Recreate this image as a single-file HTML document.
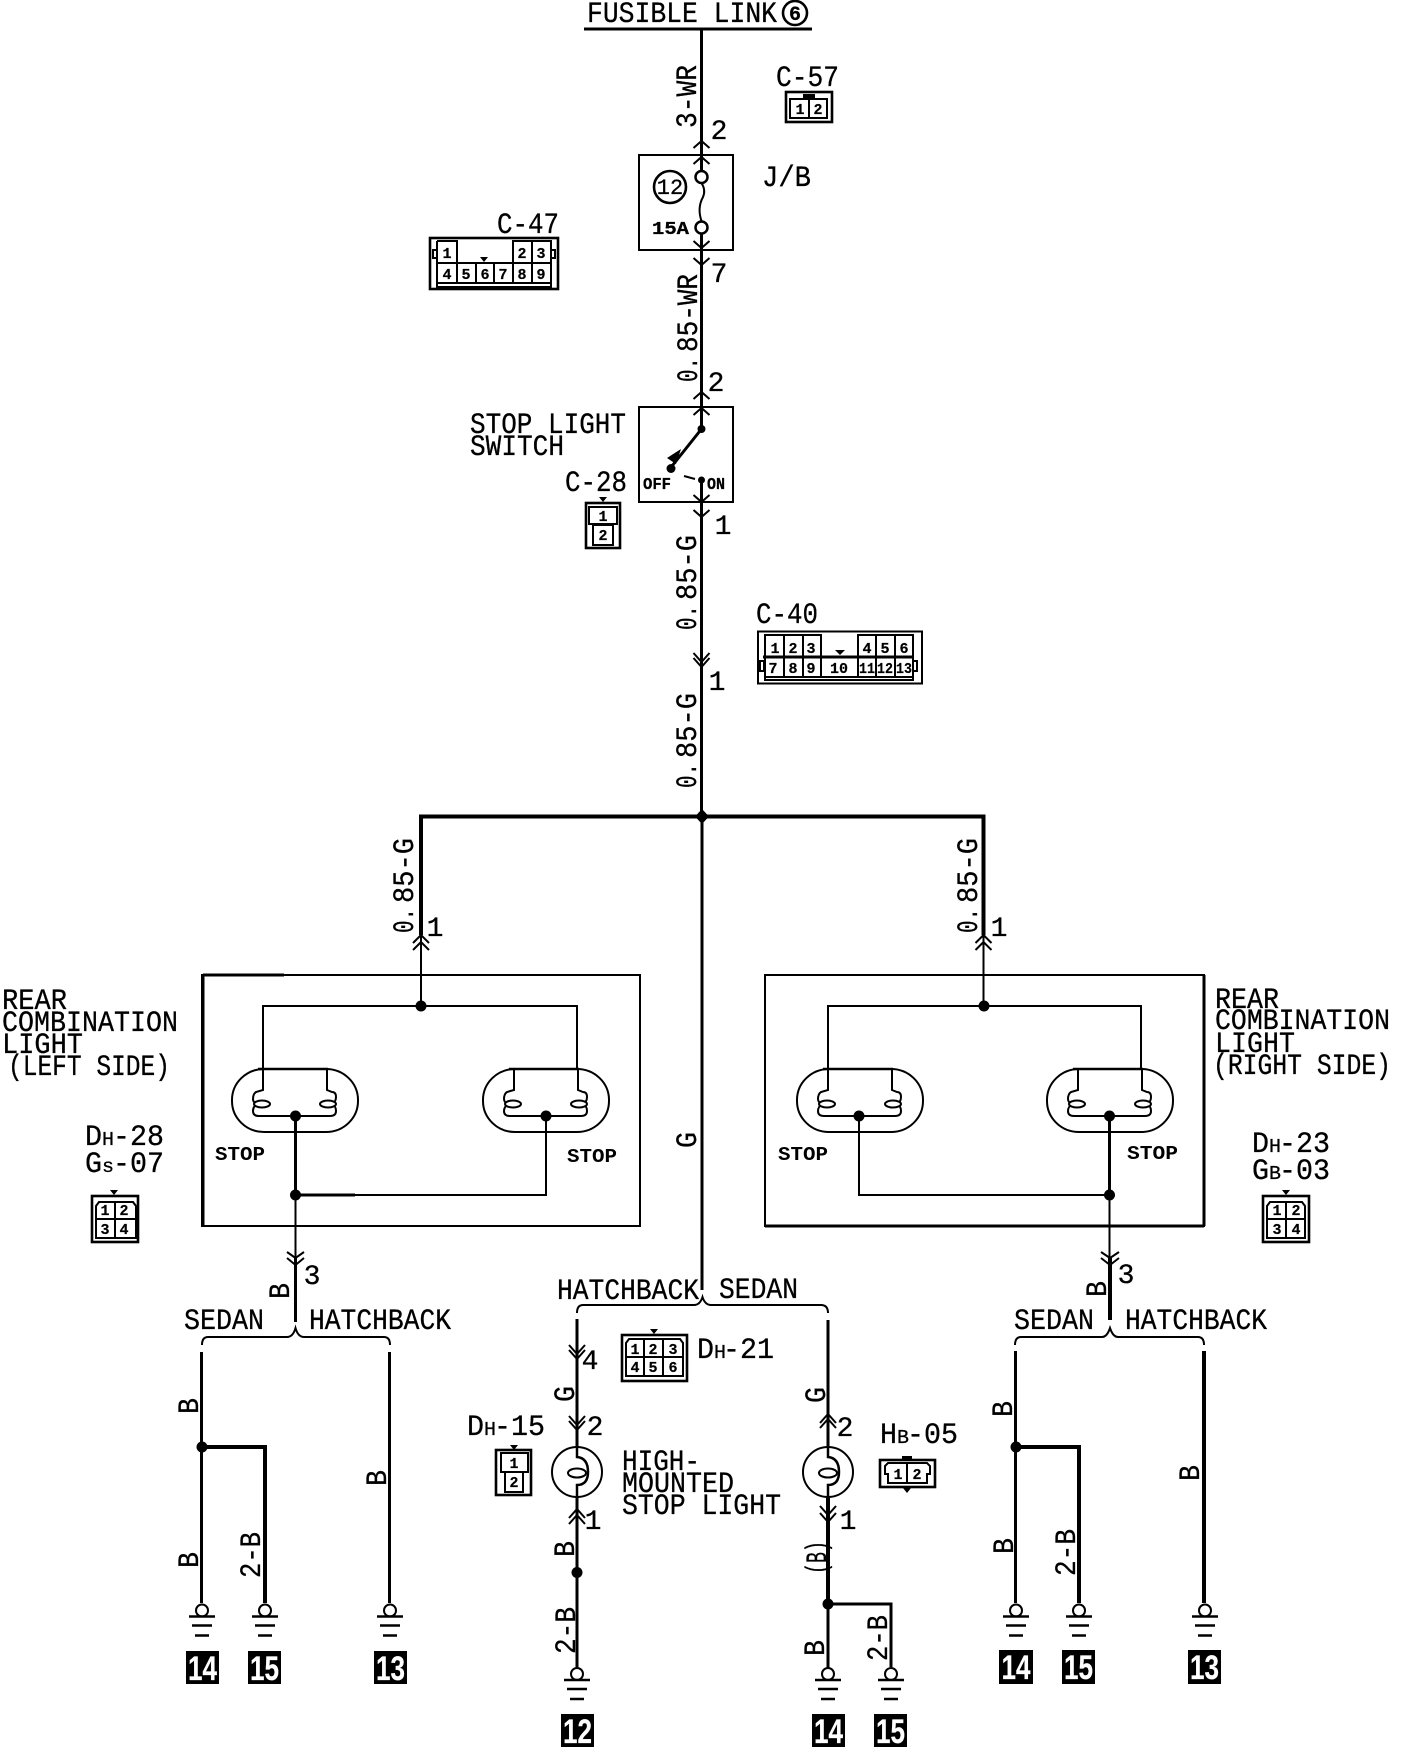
<!DOCTYPE html>
<html>
<head>
<meta charset="utf-8">
<style>
html,body{margin:0;padding:0;background:#fff;}
svg{display:block;}
text{fill:#000;stroke:#000;stroke-width:.3px;font-family:"Liberation Mono",monospace;font-size:30px;}
.r{font-size:30px;}
.n{font-weight:bold;font-size:15px;text-anchor:middle;stroke-width:.2px;}
.p{font-size:28px;text-anchor:middle;}
.s{font-size:19px;font-weight:bold;stroke-width:0;}
.sm{font-size:19px;}
.tag{fill:#fff;stroke:#fff;stroke-width:.2px;font-family:"Liberation Sans",sans-serif;font-size:34px;font-weight:bold;text-anchor:middle;}
.w2{stroke:#000;stroke-width:2;fill:none;}
.w3{stroke:#000;stroke-width:3;fill:none;}
.w4{stroke:#000;stroke-width:4;fill:none;}
.c{stroke:#000;stroke-width:2;fill:none;}
.o{stroke:#000;stroke-width:2.6;fill:none;}
</style>
</head>
<body>
<svg xmlns="http://www.w3.org/2000/svg" width="1408" height="1748" viewBox="0 0 1408 1748">
<defs>
<g id="lamp">
  <rect x="0" y="0" width="126" height="63" rx="32" ry="31" fill="#fff" stroke="#000" stroke-width="2"/>
  <path d="M26,0H96" stroke="#000" stroke-width="2.5"/>
  <path d="M31,0V21L24,23Q21,25 21,30Q21,34 26,35Q21,37 21,42Q21,47 27,47H98Q104,47 104,42Q104,37 100,35Q104,33 104,28Q104,23 100,23L95,21V0" fill="none" stroke="#000" stroke-width="2"/>
  <ellipse cx="30" cy="35" rx="8" ry="3.5" fill="#fff" stroke="#000" stroke-width="2"/>
  <ellipse cx="96" cy="35" rx="8" ry="3.5" fill="#fff" stroke="#000" stroke-width="2"/>
</g>
<g id="bulb">
  <circle cx="0" cy="0" r="25" fill="#fff" stroke="#000" stroke-width="2"/>
  <path d="M0,-25V-15Q11,-14 11,0Q11,13 0,13V25" fill="none" stroke="#000" stroke-width="2.5"/>
  <ellipse cx="0" cy="1" rx="9" ry="4.5" fill="#fff" stroke="#000" stroke-width="2"/>
</g>
<g id="gnd">
  <circle cx="0" cy="0" r="6" fill="#fff" stroke="#000" stroke-width="2"/>
  <path d="M-13,6H13" stroke="#000" stroke-width="2.5"/>
  <path d="M-10,15H10" stroke="#000" stroke-width="2.5"/>
  <path d="M-7,25H7" stroke="#000" stroke-width="2.5"/>
</g>
</defs>

<!-- top -->
<text x="587" y="22" textLength="190" lengthAdjust="spacingAndGlyphs">FUSIBLE LINK</text>
<circle cx="795" cy="13" r="12" class="o"/>
<text x="795" y="20" text-anchor="middle" style="font-size:20px;font-weight:bold">6</text>
<path d="M584,29H812" class="w3"/>
<path d="M701.5,29V141" class="w3"/>

<text class="r" transform="translate(696,128) rotate(-90)" textLength="63" lengthAdjust="spacingAndGlyphs">3-WR</text>
<text class="p" x="719" y="139">2</text>

<text x="776" y="86" textLength="63" lengthAdjust="spacingAndGlyphs">C-57</text>
<rect x="786" y="92" width="46" height="30" class="o"/>
<rect x="790" y="99" width="37" height="19" class="c"/>
<path d="M809,99V118" class="c"/>
<rect x="803" y="94" width="12" height="5" fill="#000"/>
<text class="n" x="800" y="114">1</text><text class="n" x="818" y="114">2</text>

<!-- J/B -->
<rect x="639" y="155" width="94" height="95" class="c"/>
<path d="M693.5,148L701.5,141L709.5,148M693.5,164L701.5,157L709.5,164" class="c"/>
<path d="M701.5,141V171" class="w3"/>
<circle cx="701.5" cy="177" r="6" fill="#fff" stroke="#000" stroke-width="2.5"/>
<path d="M701.5,183Q706,190 703,197Q697,208 701.5,221" class="c"/>
<circle cx="701.5" cy="227.5" r="6" fill="#fff" stroke="#000" stroke-width="2.5"/>
<circle cx="670" cy="187" r="16" class="o"/>
<text x="670" y="194" text-anchor="middle" style="font-size:22px">12</text>
<text x="652" y="234" textLength="37" lengthAdjust="spacingAndGlyphs" style="font-size:18px;font-weight:bold">15A</text>
<text x="762" y="186" textLength="49" lengthAdjust="spacingAndGlyphs">J/B</text>
<path d="M701.5,233V407" class="w3"/>
<path d="M693.5,241L701.5,248L709.5,241M693.5,258L701.5,265L709.5,258" class="c"/>
<text class="p" x="719" y="282">7</text>
<text class="r" transform="translate(697,382) rotate(-90)" textLength="25" lengthAdjust="spacingAndGlyphs">0.</text>
<text class="r" transform="translate(697,352) rotate(-90)" textLength="78" lengthAdjust="spacingAndGlyphs">85-WR</text>
<text class="p" x="716" y="391">2</text>

<!-- C-47 -->
<text x="497" y="233" textLength="62" lengthAdjust="spacingAndGlyphs">C-47</text>
<rect x="430" y="238" width="128" height="51" class="o"/>
<path d="M437,241H457V263M513,263V241H551V263M532,241V263M437,241V287H551V263" class="c"/>
<path d="M437,263H551M457,263V283M476,263V283M494,263V283M513,263V283M532,263V283M437,283H551" class="c"/>
<rect x="433" y="250" width="4" height="8" class="c" stroke-width="1"/>
<rect x="551" y="250" width="4" height="8" class="c" stroke-width="1"/>
<path d="M480,257H488L484,262Z" fill="#000"/>
<text class="n" x="447" y="258">1</text><text class="n" x="522" y="258">2</text><text class="n" x="541" y="258">3</text>
<text class="n" x="447" y="279">4</text><text class="n" x="466" y="279">5</text><text class="n" x="485" y="279">6</text><text class="n" x="503" y="279">7</text><text class="n" x="522" y="279">8</text><text class="n" x="541" y="279">9</text>

<!-- stop light switch -->
<text x="470" y="433" textLength="156" lengthAdjust="spacingAndGlyphs">STOP LIGHT</text>
<text x="470" y="455" textLength="94" lengthAdjust="spacingAndGlyphs">SWITCH</text>
<rect x="639" y="407" width="94" height="95" class="c"/>
<path d="M693.5,399L701.5,392L709.5,399M693.5,415L701.5,408L709.5,415" class="c"/>
<path d="M701.5,392V428" class="w3"/>
<circle cx="701.5" cy="429" r="4" fill="#000"/>
<path d="M701.5,429L672,466" class="w3"/>
<path d="M681,449L676,464L667,458Z" fill="#000"/>
<circle cx="671" cy="468.5" r="4.5" fill="#000"/>
<path d="M684,476L695,479" class="c"/>
<circle cx="701.5" cy="480" r="3.5" fill="#000"/>
<text x="643" y="489" textLength="28" lengthAdjust="spacingAndGlyphs" style="font-size:17px;font-weight:bold">OFF</text>
<text x="707" y="489" textLength="18" lengthAdjust="spacingAndGlyphs" style="font-size:17px;font-weight:bold">ON</text>
<path d="M701.5,480V816" class="w3"/>
<path d="M693.5,495L701.5,502L709.5,495M693.5,510L701.5,517L709.5,510" class="c"/>
<text class="p" x="723" y="534">1</text>
<text x="565" y="491" textLength="62" lengthAdjust="spacingAndGlyphs">C-28</text>
<path d="M599,497H607L603,502Z" fill="#000"/>
<rect x="586" y="503" width="34" height="45" class="o"/>
<rect x="589" y="507" width="28" height="17" class="c"/>
<rect x="593" y="525" width="20" height="20" class="c"/>
<text class="n" x="603" y="521">1</text><text class="n" x="603" y="540">2</text>

<!-- G labels on main -->
<text class="r" transform="translate(696,630) rotate(-90)" textLength="25" lengthAdjust="spacingAndGlyphs">0.</text>
<text class="r" transform="translate(696,600) rotate(-90)" textLength="65" lengthAdjust="spacingAndGlyphs">85-G</text>
<path d="M693.5,653L701.5,662L709.5,653M693.5,658L701.5,667L709.5,658" class="c"/>
<text class="p" x="717" y="690">1</text>
<text class="r" transform="translate(696,788) rotate(-90)" textLength="25" lengthAdjust="spacingAndGlyphs">0.</text>
<text class="r" transform="translate(696,758) rotate(-90)" textLength="65" lengthAdjust="spacingAndGlyphs">85-G</text>

<!-- C-40 -->
<text x="756" y="623" textLength="62" lengthAdjust="spacingAndGlyphs">C-40</text>
<rect x="758" y="631.5" width="164" height="52" class="c" stroke-width="3"/>
<path d="M765,657V635H821V657M784,635V677M803,635V677M858,657V635H913V657M876,635V677M895,635V677" class="c"/>
<path d="M763,657H913" class="w3"/>
<path d="M765,657V680H913V657M765,677H913M821,657V677M858,657V677" class="c"/>
<rect x="760" y="661" width="4" height="10" class="c" stroke-width="1"/>
<rect x="913" y="661" width="4" height="10" class="c" stroke-width="1"/>
<path d="M835,650H845L840,655Z" fill="#000"/>
<text class="n" x="775" y="653">1</text><text class="n" x="793" y="653">2</text><text class="n" x="811" y="653">3</text>
<text class="n" x="867" y="653">4</text><text class="n" x="885" y="653">5</text><text class="n" x="904" y="653">6</text>
<text class="n" x="773" y="673">7</text><text class="n" x="793" y="673">8</text><text class="n" x="811" y="673">9</text>
<text class="n" x="839" y="673">10</text>
<text class="n" x="867" y="673" textLength="16" lengthAdjust="spacingAndGlyphs">11</text>
<text class="n" x="885" y="673" textLength="16" lengthAdjust="spacingAndGlyphs">12</text>
<text class="n" x="904" y="673" textLength="16" lengthAdjust="spacingAndGlyphs">13</text>

<!-- bus -->
<path d="M421,935V816.5H983.5V935" class="w4"/>
<path d="M702,818V1290" class="w3"/>
<path d="M702,809L709,816.5L702,824L695,816.5Z" fill="#000"/>
<text class="r" transform="translate(413,933) rotate(-90)" textLength="25" lengthAdjust="spacingAndGlyphs">0.</text>
<text class="r" transform="translate(413,903) rotate(-90)" textLength="65" lengthAdjust="spacingAndGlyphs">85-G</text>
<text class="r" transform="translate(977,933) rotate(-90)" textLength="25" lengthAdjust="spacingAndGlyphs">0.</text>
<text class="r" transform="translate(977,903) rotate(-90)" textLength="65" lengthAdjust="spacingAndGlyphs">85-G</text>
<text class="p" x="435" y="936">1</text>
<text class="p" x="999" y="936">1</text>
<text class="r" transform="translate(696,1148) rotate(-90)" textLength="16" lengthAdjust="spacingAndGlyphs">G</text>

<!-- left box -->
<rect x="202" y="975" width="438" height="251" class="c"/>
<path d="M203,975H284M203,975V1226" class="w3"/>
<path d="M413,943L421,935L429,943M413,950L421,942L429,950" class="c"/>
<path d="M421,935V1006" class="c"/>
<circle cx="421" cy="1006" r="5.5" fill="#000"/>
<path d="M263,1069V1006H577V1069" class="c"/>
<use href="#lamp" x="232" y="1069"/>
<use href="#lamp" x="483" y="1069"/>
<circle cx="295.5" cy="1116" r="5.5" fill="#000"/>
<circle cx="546" cy="1116" r="5.5" fill="#000"/>
<path d="M295.5,1116V1195" class="w3"/>
<path d="M546,1116V1195H296" class="c"/>
<path d="M296,1195H355" class="w3"/>
<circle cx="295.5" cy="1195" r="5.5" fill="#000"/>
<path d="M295.5,1195V1258" class="c"/>
<path d="M295.5,1258V1322" class="w3"/>
<path d="M287,1252L295.5,1258L304,1252M287,1258L295.5,1265L304,1258" class="c"/>
<text x="215" y="1160" textLength="50" lengthAdjust="spacingAndGlyphs" class="s">STOP</text>
<text x="567" y="1162" textLength="50" lengthAdjust="spacingAndGlyphs" class="s">STOP</text>

<text x="2" y="1009" textLength="65" lengthAdjust="spacingAndGlyphs">REAR</text>
<text x="2" y="1031" textLength="176" lengthAdjust="spacingAndGlyphs">COMBINATION</text>
<text x="2" y="1053" textLength="81" lengthAdjust="spacingAndGlyphs">LIGHT</text>
<text x="8" y="1075" textLength="162" lengthAdjust="spacingAndGlyphs">(LEFT SIDE)</text>

<text x="85" y="1145" textLength="17" lengthAdjust="spacingAndGlyphs">D</text>
<text x="102" y="1145" textLength="12" lengthAdjust="spacingAndGlyphs" class="sm">H</text>
<text x="113" y="1145" textLength="51" lengthAdjust="spacingAndGlyphs">-28</text>
<text x="85" y="1172" textLength="17" lengthAdjust="spacingAndGlyphs">G</text>
<text x="102" y="1172" textLength="12" lengthAdjust="spacingAndGlyphs" class="sm">s</text>
<text x="113" y="1172" textLength="51" lengthAdjust="spacingAndGlyphs">-07</text>
<path d="M110,1190H118L114,1195Z" fill="#000"/>
<rect x="92" y="1196" width="46" height="46" class="o"/>
<path d="M96,1238V1206L99,1202H133L136,1206V1238ZM115,1202V1238M96,1219H136" class="c"/>
<text class="n" x="105" y="1215">1</text><text class="n" x="124" y="1215">2</text>
<text class="n" x="105" y="1234">3</text><text class="n" x="124" y="1234">4</text>

<!-- right box -->
<rect x="765" y="975" width="439" height="251" class="c"/>
<path d="M766,975H983" class="c"/>
<path d="M1204,975V1226M765,1226H1204" class="w3"/>
<path d="M975.5,943L983.5,935L991.5,943M975.5,950L983.5,942L991.5,950" class="c"/>
<path d="M983.5,935V1006" class="c"/>
<circle cx="984" cy="1006" r="5.5" fill="#000"/>
<path d="M828,1069V1006H1141V1069" class="c"/>
<use href="#lamp" x="797" y="1069"/>
<use href="#lamp" x="1047" y="1069"/>
<circle cx="859" cy="1116" r="5.5" fill="#000"/>
<circle cx="1109.5" cy="1116" r="5.5" fill="#000"/>
<path d="M1109.5,1116V1195" class="w3"/>
<path d="M859,1116V1195H1109" class="c"/>
<circle cx="1109.5" cy="1195" r="5.5" fill="#000"/>
<path d="M1109.5,1195V1258" class="c"/>
<path d="M1110,1258V1320" class="w4"/>
<path d="M1101,1252L1110,1258L1119,1252M1101,1258L1110,1265L1119,1258" class="c"/>
<text x="778" y="1160" textLength="50" lengthAdjust="spacingAndGlyphs" class="s">STOP</text>
<text x="1127" y="1159" textLength="51" lengthAdjust="spacingAndGlyphs" class="s">STOP</text>

<text x="1215" y="1008" textLength="64" lengthAdjust="spacingAndGlyphs">REAR</text>
<text x="1215" y="1029" textLength="175" lengthAdjust="spacingAndGlyphs">COMBINATION</text>
<text x="1215" y="1052" textLength="80" lengthAdjust="spacingAndGlyphs">LIGHT</text>
<text x="1213" y="1074" textLength="178" lengthAdjust="spacingAndGlyphs">(RIGHT SIDE)</text>

<text x="1252" y="1152" textLength="17" lengthAdjust="spacingAndGlyphs">D</text>
<text x="1269" y="1152" textLength="12" lengthAdjust="spacingAndGlyphs" class="sm">H</text>
<text x="1279" y="1152" textLength="51" lengthAdjust="spacingAndGlyphs">-23</text>
<text x="1252" y="1179" textLength="17" lengthAdjust="spacingAndGlyphs">G</text>
<text x="1269" y="1179" textLength="12" lengthAdjust="spacingAndGlyphs" class="sm">B</text>
<text x="1279" y="1179" textLength="51" lengthAdjust="spacingAndGlyphs">-03</text>
<path d="M1282,1190H1290L1286,1195Z" fill="#000"/>
<rect x="1263" y="1196" width="46" height="46" class="o"/>
<path d="M1267,1238V1206L1270,1202H1302L1305,1206V1238ZM1286,1202V1238M1267,1219H1305" class="c"/>
<text class="n" x="1277" y="1215">1</text><text class="n" x="1296" y="1215">2</text>
<text class="n" x="1277" y="1234">3</text><text class="n" x="1296" y="1234">4</text>

<!-- left bottom -->
<text class="p" x="312" y="1284">3</text>
<text class="r" transform="translate(289,1299) rotate(-90)" textLength="16" lengthAdjust="spacingAndGlyphs">B</text>
<text x="184" y="1329" textLength="80" lengthAdjust="spacingAndGlyphs">SEDAN</text>
<text x="309" y="1329" textLength="142" lengthAdjust="spacingAndGlyphs">HATCHBACK</text>
<path d="M202,1345Q202,1337 208,1337H287Q293,1337 295.5,1328Q298,1337 304,1337H384Q390,1337 390,1345" class="c"/>
<path d="M201.5,1352V1603" class="w3"/>
<circle cx="202" cy="1447" r="5.5" fill="#000"/>
<path d="M202,1447H265V1603" class="w4"/>
<path d="M389.5,1352V1603" class="w3"/>
<text class="r" transform="translate(198,1414) rotate(-90)" textLength="16" lengthAdjust="spacingAndGlyphs">B</text>
<text class="r" transform="translate(198,1568) rotate(-90)" textLength="16" lengthAdjust="spacingAndGlyphs">B</text>
<text class="r" transform="translate(260,1578) rotate(-90)" textLength="46" lengthAdjust="spacingAndGlyphs">2-B</text>
<text class="r" transform="translate(386,1486) rotate(-90)" textLength="16" lengthAdjust="spacingAndGlyphs">B</text>
<use href="#gnd" x="202" y="1610.5"/>
<use href="#gnd" x="265" y="1610.5"/>
<use href="#gnd" x="390" y="1610.5"/>
<rect x="186" y="1651" width="33" height="33" fill="#000"/>
<text class="tag" x="202.5" y="1680" textLength="29" lengthAdjust="spacingAndGlyphs">14</text>
<rect x="248" y="1651" width="33" height="33" fill="#000"/>
<text class="tag" x="264.5" y="1680" textLength="29" lengthAdjust="spacingAndGlyphs">15</text>
<rect x="374" y="1651" width="33" height="33" fill="#000"/>
<text class="tag" x="390.5" y="1680" textLength="29" lengthAdjust="spacingAndGlyphs">13</text>

<!-- center bottom -->
<text x="557" y="1299" textLength="142" lengthAdjust="spacingAndGlyphs">HATCHBACK</text>
<text x="719" y="1298" textLength="79" lengthAdjust="spacingAndGlyphs">SEDAN</text>
<path d="M577,1313Q577,1305 583,1305H694Q700,1305 702.5,1297Q705,1305 711,1305H821Q828,1305 828,1313" class="c"/>

<path d="M577,1319V1447" class="w3"/>
<path d="M569,1345L577,1354L585,1345M569,1350L577,1359L585,1350" class="c"/>
<text class="p" x="590" y="1369">4</text>
<text class="r" transform="translate(574,1402) rotate(-90)" textLength="16" lengthAdjust="spacingAndGlyphs">G</text>
<path d="M569,1416L577,1425L585,1416M569,1421L577,1430L585,1421" class="c"/>
<text class="p" x="595" y="1435">2</text>
<use href="#bulb" x="577" y="1472"/>
<path d="M577,1497V1668" class="w3"/>
<path d="M569,1518L577,1509L585,1518M569,1524L577,1515L585,1524" class="c"/>
<text class="p" x="593" y="1529">1</text>
<text class="r" transform="translate(574,1557) rotate(-90)" textLength="16" lengthAdjust="spacingAndGlyphs">B</text>
<circle cx="577" cy="1572.5" r="5.5" fill="#000"/>
<text class="r" transform="translate(575,1654) rotate(-90)" textLength="47" lengthAdjust="spacingAndGlyphs">2-B</text>
<use href="#gnd" x="577" y="1674"/>
<rect x="561" y="1714" width="33" height="33" fill="#000"/>
<text class="tag" x="577.5" y="1743" textLength="29" lengthAdjust="spacingAndGlyphs">12</text>

<path d="M650,1329H658L654,1334Z" fill="#000"/>
<rect x="622" y="1335" width="65" height="46" class="o"/>
<path d="M626,1376V1343L629,1339H680L683,1343V1376ZM644,1339V1376M663,1339V1376M626,1357H683" class="c"/>
<text class="n" x="635" y="1354">1</text><text class="n" x="653" y="1354">2</text><text class="n" x="673" y="1354">3</text>
<text class="n" x="635" y="1372">4</text><text class="n" x="653" y="1372">5</text><text class="n" x="673" y="1372">6</text>
<text x="697" y="1358" textLength="17" lengthAdjust="spacingAndGlyphs">D</text>
<text x="714" y="1358" textLength="12" lengthAdjust="spacingAndGlyphs" class="sm">H</text>
<text x="723" y="1358" textLength="51" lengthAdjust="spacingAndGlyphs">-21</text>

<text x="622" y="1470" textLength="78" lengthAdjust="spacingAndGlyphs">HIGH-</text>
<text x="622" y="1492" textLength="112" lengthAdjust="spacingAndGlyphs">MOUNTED</text>
<text x="622" y="1514" textLength="159" lengthAdjust="spacingAndGlyphs">STOP LIGHT</text>

<text x="467" y="1435" textLength="17" lengthAdjust="spacingAndGlyphs">D</text>
<text x="484" y="1435" textLength="12" lengthAdjust="spacingAndGlyphs" class="sm">H</text>
<text x="494" y="1435" textLength="51" lengthAdjust="spacingAndGlyphs">-15</text>
<path d="M510,1445H518L514,1450Z" fill="#000"/>
<rect x="496" y="1450" width="35" height="45" class="o"/>
<rect x="501" y="1453" width="27" height="19" class="c"/>
<rect x="505" y="1472" width="18" height="20" class="c"/>
<text class="n" x="514" y="1468">1</text><text class="n" x="514" y="1487">2</text>

<path d="M828,1320V1447" class="w3"/>
<text class="r" transform="translate(825,1403) rotate(-90)" textLength="16" lengthAdjust="spacingAndGlyphs">G</text>
<path d="M820,1423L828,1414L836,1423M820,1428L828,1419L836,1428" class="c"/>
<text class="p" x="845" y="1436">2</text>
<use href="#bulb" x="828" y="1472"/>
<path d="M828,1497V1604" class="w4"/>
<path d="M820,1506L828,1515L836,1506M820,1513L828,1522L836,1513" class="c"/>
<text class="p" x="848" y="1529">1</text>
<text class="r" transform="translate(826,1574) rotate(-90)" textLength="33" lengthAdjust="spacingAndGlyphs">(B)</text>
<circle cx="828" cy="1604" r="5.5" fill="#000"/>
<path d="M828,1604H891V1667" class="w3"/>
<path d="M828,1604V1668" class="w3"/>
<text class="r" transform="translate(824,1656) rotate(-90)" textLength="16" lengthAdjust="spacingAndGlyphs">B</text>
<text class="r" transform="translate(887,1661) rotate(-90)" textLength="46" lengthAdjust="spacingAndGlyphs">2-B</text>
<use href="#gnd" x="828" y="1674"/>
<use href="#gnd" x="891" y="1674"/>
<rect x="812" y="1714" width="33" height="33" fill="#000"/>
<text class="tag" x="828.5" y="1743" textLength="29" lengthAdjust="spacingAndGlyphs">14</text>
<rect x="874" y="1714" width="33" height="33" fill="#000"/>
<text class="tag" x="890.5" y="1743" textLength="29" lengthAdjust="spacingAndGlyphs">15</text>

<text x="880" y="1443" textLength="17" lengthAdjust="spacingAndGlyphs">H</text>
<text x="897" y="1443" textLength="12" lengthAdjust="spacingAndGlyphs" class="sm">B</text>
<text x="907" y="1443" textLength="51" lengthAdjust="spacingAndGlyphs">-05</text>
<rect x="880" y="1460" width="55" height="27" class="o"/>
<path d="M885,1466L888,1463H927L930,1466V1474H927V1483H888V1474H885ZM907,1463V1483" class="c"/>
<rect x="902" y="1456" width="10" height="4" fill="#000"/>
<path d="M903,1488H911L907,1493Z" fill="#000"/>
<text class="n" x="898" y="1479">1</text><text class="n" x="917" y="1479">2</text>

<!-- right bottom -->
<text class="p" x="1126" y="1283">3</text>
<text class="r" transform="translate(1106,1297) rotate(-90)" textLength="16" lengthAdjust="spacingAndGlyphs">B</text>
<text x="1014" y="1329" textLength="80" lengthAdjust="spacingAndGlyphs">SEDAN</text>
<text x="1125" y="1329" textLength="142" lengthAdjust="spacingAndGlyphs">HATCHBACK</text>
<path d="M1015,1345Q1015,1337 1021,1337H1102Q1107,1337 1110,1328Q1113,1337 1118,1337H1198Q1204,1337 1204,1345" class="c"/>
<path d="M1015.5,1351V1603" class="w3"/>
<circle cx="1016" cy="1447" r="5.5" fill="#000"/>
<path d="M1016,1447H1079V1603" class="w4"/>
<path d="M1204,1351V1603" class="w4"/>
<text class="r" transform="translate(1012,1417) rotate(-90)" textLength="16" lengthAdjust="spacingAndGlyphs">B</text>
<text class="r" transform="translate(1013,1554) rotate(-90)" textLength="16" lengthAdjust="spacingAndGlyphs">B</text>
<text class="r" transform="translate(1075,1576) rotate(-90)" textLength="47" lengthAdjust="spacingAndGlyphs">2-B</text>
<text class="r" transform="translate(1199,1481) rotate(-90)" textLength="16" lengthAdjust="spacingAndGlyphs">B</text>
<use href="#gnd" x="1016" y="1610.5"/>
<use href="#gnd" x="1079" y="1610.5"/>
<use href="#gnd" x="1205" y="1610.5"/>
<rect x="999" y="1650" width="34" height="34" fill="#000"/>
<text class="tag" x="1016" y="1679" textLength="29" lengthAdjust="spacingAndGlyphs">14</text>
<rect x="1062" y="1650" width="33" height="34" fill="#000"/>
<text class="tag" x="1078.5" y="1679" textLength="29" lengthAdjust="spacingAndGlyphs">15</text>
<rect x="1188" y="1650" width="33" height="34" fill="#000"/>
<text class="tag" x="1204.5" y="1679" textLength="29" lengthAdjust="spacingAndGlyphs">13</text>
</svg>
</body>
</html>
